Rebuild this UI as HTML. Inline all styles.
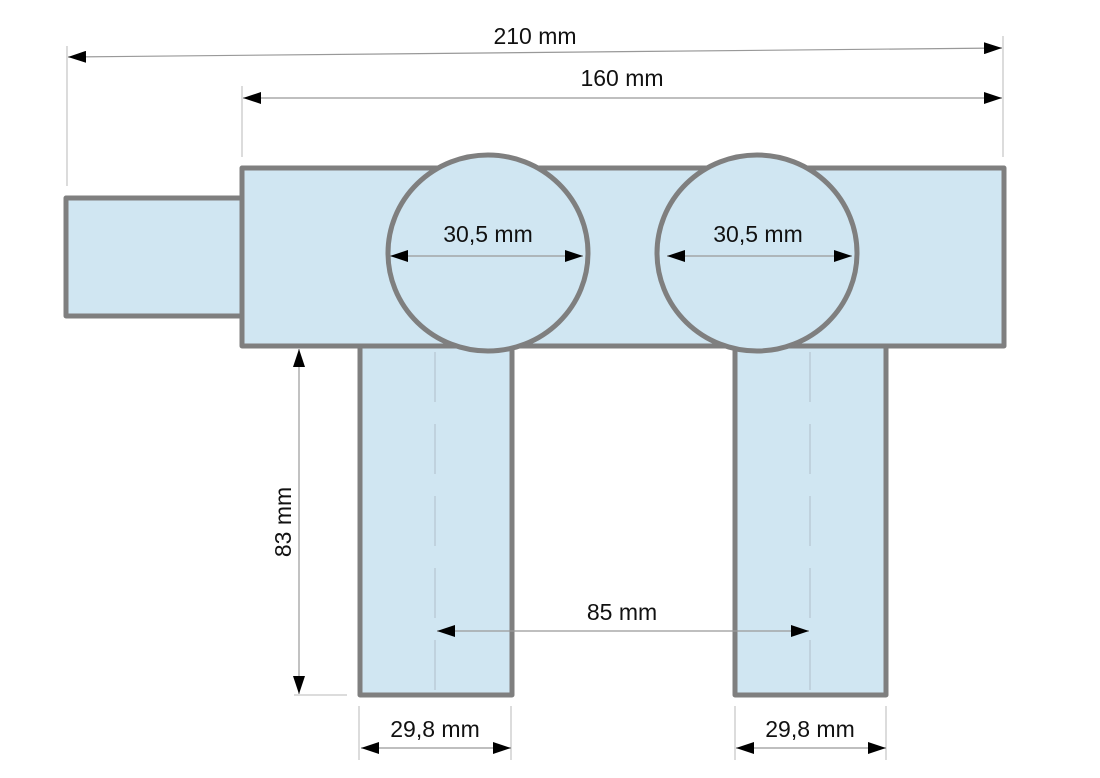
<!DOCTYPE html>
<html><head><meta charset="utf-8"><style>
html,body{margin:0;padding:0;background:#fff;}
svg{display:block;}
text{font-family:"Liberation Sans",sans-serif;font-size:23px;fill:#111;}
</style></head><body>
<svg width="1100" height="778" viewBox="0 0 1100 778" xmlns="http://www.w3.org/2000/svg">
<defs>
<marker id="a" viewBox="0 0 18 12" refX="18" refY="6" markerWidth="18" markerHeight="12" markerUnits="userSpaceOnUse" orient="auto-start-reverse">
<path d="M0,0 L18,6 L0,12 Z" fill="#000"/></marker>
</defs>
<g fill="#d0e6f2" stroke="#7f7f7f" stroke-width="5" stroke-linejoin="round">
<rect x="66" y="198" width="176" height="118"/>
<rect x="360" y="346" width="152" height="349"/>
<rect x="735" y="346" width="151" height="349"/>
<rect x="242" y="168" width="762" height="178"/>
<ellipse cx="488" cy="253" rx="100" ry="98"/>
<ellipse cx="757" cy="253" rx="100" ry="98"/>
</g>
<g stroke="#b8c8d4" stroke-width="1.3" stroke-dasharray="50,22">
<line x1="435" y1="352" x2="435" y2="690"/>
<line x1="810" y1="352" x2="810" y2="690"/>
</g>
<g stroke="#c8c8c8" stroke-width="1.3">
<line x1="67" y1="46" x2="67" y2="186"/>
<line x1="242" y1="86" x2="242" y2="157"/>
<line x1="1003" y1="36" x2="1003" y2="157"/>
<line x1="294" y1="695" x2="347" y2="695"/>
<line x1="359" y1="706" x2="359" y2="760"/>
<line x1="511" y1="706" x2="511" y2="760"/>
<line x1="735" y1="706" x2="735" y2="760"/>
<line x1="886" y1="706" x2="886" y2="760"/>
</g>
<g stroke="#999" stroke-width="1.2" fill="none" marker-start="url(#a)" marker-end="url(#a)">
<line x1="68" y1="57" x2="1002" y2="48"/>
<line x1="243" y1="98" x2="1002" y2="98"/>
<line x1="390" y1="256" x2="583" y2="256"/>
<line x1="667" y1="256" x2="852" y2="256"/>
<line x1="299" y1="349" x2="299" y2="694"/>
<line x1="437" y1="631" x2="809" y2="631"/>
<line x1="361" y1="748" x2="511" y2="748"/>
<line x1="736" y1="748" x2="886" y2="748"/>
</g>
<g text-anchor="middle">
<text x="535" y="44">210 mm</text>
<text x="622" y="86">160 mm</text>
<text x="488" y="242">30,5 mm</text>
<text x="758" y="242">30,5 mm</text>
<text x="622" y="620">85 mm</text>
<text x="435" y="737">29,8 mm</text>
<text x="810" y="737">29,8 mm</text>
<text transform="translate(291,522) rotate(-90)">83 mm</text>
</g>
</svg>
</body></html>
